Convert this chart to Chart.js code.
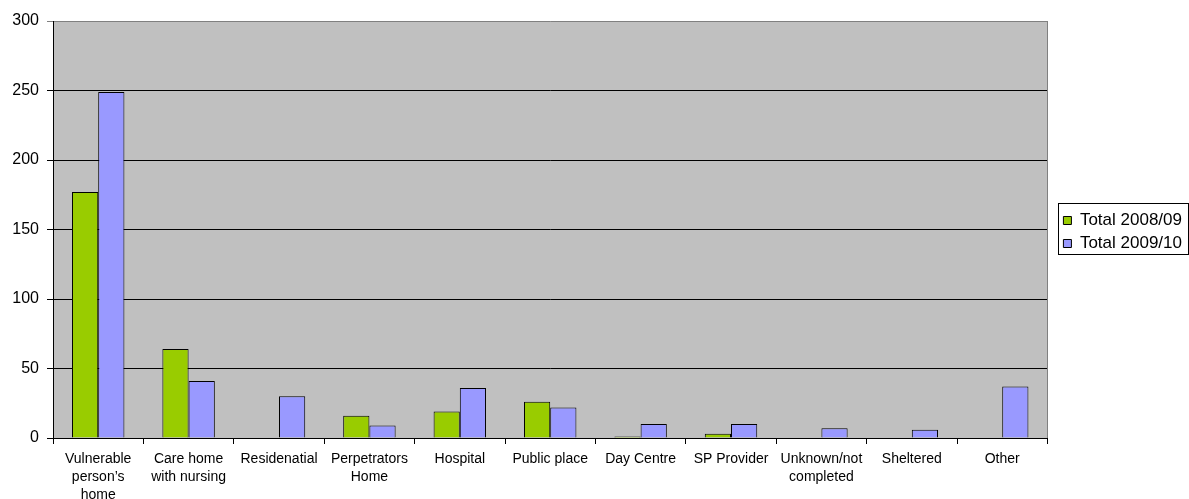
<!DOCTYPE html>
<html>
<head>
<meta charset="utf-8">
<script src="https://cdn.jsdelivr.net/npm/chart.js@4"></script>
<style>
  html, body { margin: 0; padding: 0; background: #fff; }
  #wrap { width: 1189px; height: 499px; }
</style>
</head>
<body>
<div id="wrap"><canvas id="placeChart"></canvas></div>
<script>
const places = [
    ["Vulnerable", "person\u2019s", "home"],
    ["Care home", "with nursing"],
    "Residenatial",
    ["Perpetrators", "Home"],
    "Hospital",
    "Public place",
    "Day Centre",
    "SP Provider",
    ["Unknown/not", "completed"],
    "Sheltered",
    "Other"
];
const total0809 = [177, 64, 0, 16, 19, 26, 1, 3, 0, 0, 0];
const total0910 = [249, 41, 30, 9, 36, 22, 10, 10, 7, 6, 37];
const yTicks = [0, 50, 100, 150, 200, 250, 300];

// legend sits a little away from the plot and higher than centre
const LEGEND_WIDEN = 7;
const LEGEND_SHIFT = 10;
const LEGEND_RAISE = 28;

// grey plot background, grey right border and a box round the legend
const plotFrame = {
    id: "plotFrame",
    afterInit(chart) {
        const lg = chart.legend;
        const fit = lg.fit;
        lg.fit = function () {
            fit.call(this);
            this.width += LEGEND_WIDEN;
        };
    },
    afterLayout(chart) {
        const lg = chart.legend;
        lg.left += LEGEND_SHIFT;
        lg.top -= LEGEND_RAISE;
        lg.bottom -= LEGEND_RAISE;
    },
    beforeDraw(chart) {
        const a = chart.chartArea, c = chart.ctx;
        c.save();
        c.fillStyle = "#c0c0c0";
        c.fillRect(a.left, a.top, a.right - a.left, a.bottom - a.top);
        c.restore();
    },
    afterDraw(chart) {
        const a = chart.chartArea, c = chart.ctx;
        c.save();
        c.strokeStyle = "#808080";
        c.lineWidth = 1;
        c.beginPath();
        c.moveTo(Math.round(a.right) + 0.5, a.top);
        c.lineTo(Math.round(a.right) + 0.5, a.bottom);
        c.stroke();
        const boxes = chart.legend.legendHitBoxes;
        if (boxes && boxes.length) {
            const x0 = Math.round(chart.legend.left) + 1;
            const y0 = Math.round(Math.min(...boxes.map(b => b.top)) - 9);
            const y1 = Math.round(Math.max(...boxes.map(b => b.top + b.height)) + 2);
            c.strokeStyle = "#000";
            c.strokeRect(x0 + 0.5, y0 + 0.5, chart.width - x0 - 1, y1 - y0);
        }
        c.restore();
    }
};

const font = "'Liberation Sans', Arial, sans-serif";

new Chart(document.getElementById("placeChart"), {
    type: "bar",
    data: {
        labels: places,
        datasets: [
            {
                label: "Total 2008/09",
                data: total0809,
                backgroundColor: "#99cc00",
                borderColor: "#000",
                borderWidth: 1
            },
            {
                label: "Total 2009/10",
                data: total0910,
                backgroundColor: "#9999ff",
                borderColor: "#000",
                borderWidth: 1
            }
        ]
    },
    options: {
        responsive: true,
        maintainAspectRatio: false,
        animation: false,
        categoryPercentage: 0.58,
        barPercentage: 1,
        layout: { padding: { top: 21, right: 0, left: 0, bottom: 0 } },
        plugins: {
            tooltip: { enabled: false },
            legend: {
                position: "right",
                labels: {
                    boxWidth: 8,
                    boxHeight: 8,
                    padding: 6,
                    color: "#000",
                    font: { family: font, size: 17 }
                }
            }
        },
        scales: {
            x: {
                afterFit(scale) { scale.height = 61; },
                grid: {
                    offset: true,
                    drawOnChartArea: false,
                    color: "#000",
                    tickLength: 6
                },
                border: { color: "#000" },
                ticks: {
                    color: "#000",
                    padding: 6,
                    maxRotation: 0,
                    autoSkip: false,
                    font: { family: font, size: 14, lineHeight: "18px" }
                }
            },
            y: {
                min: 0,
                max: 300,
                afterFit(scale) { scale.width = 53; },
                afterBuildTicks(scale) { scale.ticks = yTicks.map(v => ({ value: v })); },
                grid: {
                    color: ctx => (ctx.tick && ctx.tick.value === 300) ? "#808080" : "#000",
                    tickLength: 6
                },
                border: { color: "#000" },
                ticks: {
                    color: "#000",
                    padding: 8,
                    font: { family: font, size: 16 }
                }
            }
        }
    },
    plugins: [plotFrame]
});
</script>
</body>
</html>
